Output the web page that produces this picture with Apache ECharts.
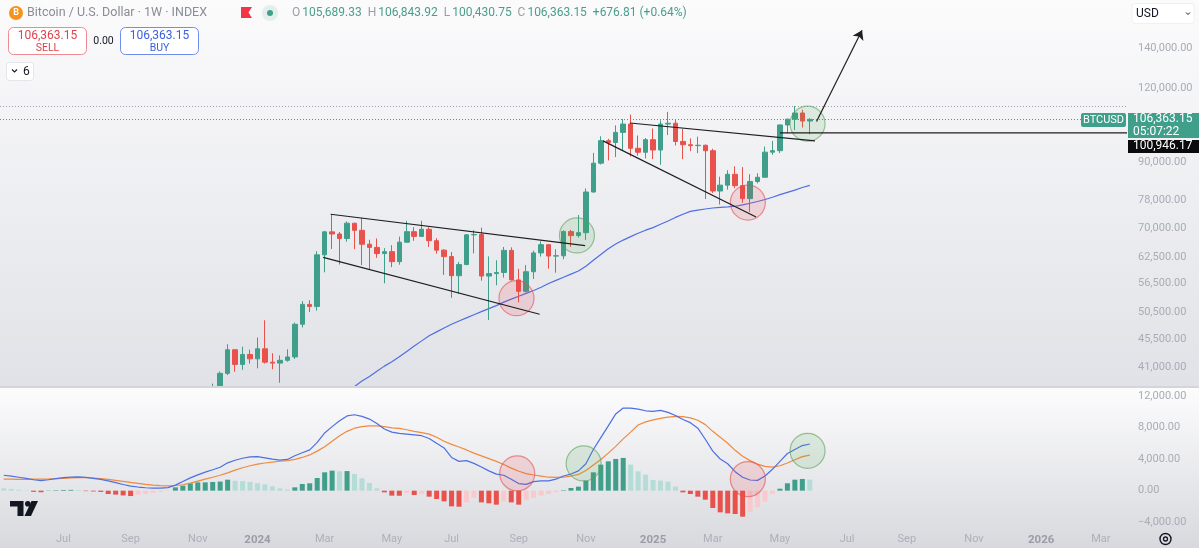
<!DOCTYPE html>
<html><head><meta charset="utf-8">
<script src="https://cdn.jsdelivr.net/npm/echarts/dist/echarts.min.js"></script>
<style>html,body{margin:0;padding:0;background:#fff;overflow:hidden}#c{width:1199px;height:548px}</style>
</head><body><div id="c"></div>
<script>
// ---------- DATA ----------
const firstWeek = [2023, 4, 8];          // Monday 2023-05-08 (UTC)
const weekCount = 151;                    // weekly slots shown on the time scale
const categories = [];
for (let i = 0; i < weekCount; i++) {
  categories.push(new Date(Date.UTC(firstWeek[0], firstWeek[1], firstWeek[2] + 7 * i)).toISOString().slice(0, 10));
}
const tickDates = ['2023-07-03','2023-09-04','2023-11-06','2024-01-01','2024-03-04','2024-05-06','2024-07-01','2024-09-02','2024-11-04','2025-01-06','2025-03-03','2025-05-05','2025-07-07','2025-09-01','2025-11-03','2026-01-05','2026-03-02'];
const tickTexts = ['Jul','Sep','Nov','2024','Mar','May','Jul','Sep','Nov','2025','Mar','May','Jul','Sep','Nov','2026','Mar'];
const priceTicks = [41000,45500,50500,56500,62500,70000,78000,90000,120000,140000];
const macdTicks = [-4000,0,4000,8000,12000];

const candleStart = '2023-11-20';
// [open, high, low, close]
const weeklyOHLC = [
 [37360,38420,35690,37450],[37450,40250,36860,39970],[39970,44730,39700,43780],[43780,43800,40210,41370],[41370,44300,40520,42990],[42990,43800,41500,42270],
 [42270,45900,40750,43940],[43940,49050,41500,41730],[41730,43200,40600,41580],[41580,42840,38550,42030],[42030,43850,41800,42580],
 [42580,48590,42260,48300],[48300,52820,47700,52140],[52140,52990,50620,51730],[51730,64000,50900,63110],
 [63110,69200,59000,68950],[68950,73780,64550,68390],[68390,68920,60800,67210],[67210,71770,66390,71290],
 [71290,71340,64500,69360],[69360,72800,60660,65740],[65740,66900,59600,64940],[64940,67230,62390,63420],
 [63420,64740,56550,63890],[63890,65500,60190,61480],[61480,67700,60750,66270],[66270,71950,66060,69000],
 [69000,70200,66600,67760],[67760,71980,67600,69650],[69650,70200,65080,66640],[66640,67300,63400,64260],
 [64260,64500,58400,62680],[62680,63800,53490,58240],[58240,61400,54300,60790],[60790,68360,60650,68160],
 [68160,69400,63460,68250],[68250,70080,57120,58160],[58160,62730,49100,58710],[58710,61800,56120,58960],
 [58960,65050,57800,64200],[64200,64960,57200,57300],[57300,59800,52550,54840],[54840,60650,54580,59130],
 [59130,64130,57500,63580],[63580,66500,62700,65630],[65630,65650,59830,62820],[62820,64480,58900,62870],
 [62870,69400,62040,69030],[69030,69500,65060,67970],[67970,73600,67450,68740],[68740,81500,66830,80400],
 [80400,93480,80220,89850],[89850,99650,89380,97990],[97990,98700,90800,97280],[97280,103950,92000,101170],
 [101170,106500,94160,104460],[104460,108350,92210,95160],[95160,99960,92500,93710],[93710,98980,91510,98360],
 [98360,102700,91300,94520],[94520,106000,89300,104470],[104470,109500,100120,104800],[104800,106400,96200,97690],
 [97690,102500,91230,96480],[96480,98830,94090,96130],[96130,99500,93390,96270],[96270,96500,78260,94270],
 [94270,95000,80100,80710],[80710,85300,76620,82560],[82560,87450,81150,86080],[86080,88770,81600,82390],
 [82390,88500,77150,78380],[78380,86100,74420,83730],[83730,86430,83110,85100],[85100,95760,85100,93750],
 [93750,97900,92800,94290],[94290,104300,93400,104100],[104100,106650,100800,106450],[106450,111980,102100,109010],
 [109010,110400,103100,105690],[105689.33,106843.92,100430.75,106363.15]
];
const lastPrice = 106363.15;
const highLine = 111980;
const rayLevel = 100946.17;

const maStart = '2024-03-25';
const ma50 = [37300,38000,38800,39500,40300,41100,41800,42600,43500,44400,45300,46200,46900,47600,48300,48900,49500,50100,50700,51300,51900,52600,53200,53800,54400,55000,55700,56500,57200,57900,58600,59300,60400,61800,63200,64600,65800,66800,67700,68600,69400,70100,71000,71900,72900,73800,74600,75000,75300,75600,75800,75900,76100,76500,77000,77500,78100,78800,79600,80300,81000,81800,82500];

const macdStart = '2023-05-08';
const macdLine = [1950,1830,1700,1550,1380,1280,1380,1520,1650,1720,
 1750,1680,1550,1420,1230,1010,780,580,460,370,
 320,320,390,700,1150,1620,2000,2350,2650,2960,
 3520,3850,4100,4280,4300,4150,3990,3850,3950,4420,
 4800,5150,6100,7300,8100,8850,9450,9600,9400,9050,
 8500,7800,7400,7240,7150,7050,6950,6600,6000,5400,
 4200,3700,3800,3450,3000,2500,2090,1950,1450,900,
 800,1150,1250,1240,1450,1850,2100,2500,3400,5200,
 6700,8200,9700,10440,10440,10300,10100,10030,10150,9900,
 9500,9000,8600,7900,6500,5000,4000,3400,2400,1700,
 1350,1300,1850,2700,3700,4700,5200,5700,5900];
const signalLine = [1460,1450,1440,1440,1450,1460,1480,1510,1560,1620,
 1660,1650,1600,1520,1420,1300,1170,1040,920,800,
 700,640,610,650,750,950,1200,1450,1700,1950,
 2250,2600,2900,3150,3350,3500,3620,3720,3800,3950,
 4200,4520,5000,5550,6250,6950,7500,7900,8100,8200,
 8200,8100,7950,7880,7700,7500,7330,7150,6750,6250,
 5850,5520,5150,4750,4400,4050,3700,3300,2850,2450,
 2150,1980,1850,1700,1670,1700,1850,2050,2550,3250,
 3950,4750,5600,6550,7400,8300,8700,8950,9150,9300,
 9390,9350,9200,8900,8350,7500,6750,6000,5100,4350,
 3800,3350,3080,2980,3150,3500,3900,4300,4500];
const histogram = [300,220,120,30,-150,-200,30,60,90,100,
 80,-60,-100,-160,-420,-500,-600,-680,-520,-400,
 -280,-150,-40,420,630,930,1050,1050,1100,1150,
 1390,1250,1200,1100,950,800,550,300,150,420,
 840,930,1600,2320,2530,2450,2480,2110,1560,970,
 300,-210,-630,-640,-300,-550,-400,-760,-1050,-1350,
 -1980,-2030,-1500,-900,-1480,-1600,-1770,-1350,-1480,-1770,
 -1200,-900,-620,-420,-200,60,340,510,1270,2320,
 3290,3710,4010,4140,3290,2450,2030,1350,1270,1140,
 510,-210,-420,-760,-1140,-2190,-2740,-2870,-2950,-3290,
 -2700,-2100,-1400,-400,250,930,1390,1480,1400];

// drawings, anchored in (week slot, value)
const trendLines = [
  [[43.8,73800],[77.9,65400]],
  [[42.8,62500],[71.8,50200]],
  [[83.9,104900],[108.7,97900]],
  [[80.3,97900],[100.8,73000]],
  [[104.0,rayLevel],[150.5,rayLevel]]
];
const arrowLine = [[108.9,105500],[115.0,149900]];
const priceCircles = [[68.7,53400,'r'],[76.8,68000,'g'],[99.7,77200,'r'],[107.7,104600,'g']];
const macdCircles = [[68.8,2180,'r'],[77.7,3440,'g'],[99.7,1460,'r'],[107.7,5040,'g']];

// ---------- BUILD ----------
const FONT = 'Roboto, "Noto Sans", "DejaVu Sans", sans-serif';
const UP = '#3f9f8b', DOWN = '#e9524c';
const LIGHT_UP = '#b4ddd8', LIGHT_DOWN = '#fbc8cc';
const fmt = v => v.toLocaleString('en-US', {minimumFractionDigits: 2, maximumFractionDigits: 2});
const c0 = categories.indexOf(candleStart);
const m0 = categories.indexOf(maStart);
const d0 = categories.indexOf(macdStart);
const candleData = categories.map((d, i) => { const r = weeklyOHLC[i - c0]; return r ? [r[0], r[3], r[2], r[1]] : '-'; });
const maData = categories.map((d, i) => { const v = ma50[i - m0]; return v === undefined ? '-' : v; });
const pad = (arr) => categories.map((d, i) => { const v = arr[i - d0]; return v === undefined ? '-' : v; });
const histData = categories.map((d, i) => {
  const v = histogram[i - d0];
  if (v === undefined) return '-';
  const p = histogram[i - d0 - 1];
  let col;
  if (v >= 0) col = (p !== undefined && v >= p) ? UP : LIGHT_UP;
  else col = (p !== undefined && v <= p) ? DOWN : LIGHT_DOWN;
  return {value: v, itemStyle: {color: col}};
});
const circleStyle = k => k === 'r'
  ? {color: 'rgba(242,54,69,0.18)', borderColor: 'rgba(226,76,76,0.75)', borderWidth: 1.2}
  : {color: 'rgba(76,175,80,0.18)', borderColor: 'rgba(90,160,90,0.75)', borderWidth: 1.2};

const series = [];
series.push({
  type: 'candlestick', xAxisIndex: 0, yAxisIndex: 0, data: candleData, barWidth: 5, clip: true, z: 3,
  itemStyle: {color: UP, color0: DOWN, borderColor: UP, borderColor0: DOWN, borderWidth: 1},
  markLine: {
    silent: true, symbol: 'none', label: {show: false}, z: 1,
    data: [
      {yAxis: highLine, lineStyle: {color: '#9ea1aa', type: [1, 2], width: 1}},
      {yAxis: lastPrice, lineStyle: {color: UP, type: [1, 2], width: 1}}
    ]
  }
});
series.push({type: 'line', xAxisIndex: 0, yAxisIndex: 0, data: maData, showSymbol: false, clip: true,
  lineStyle: {color: '#4e6fe3', width: 1.2}, z: 2});
trendLines.forEach(seg => series.push({
  type: 'line', xAxisIndex: 1, yAxisIndex: 0, data: seg, showSymbol: false, clip: true,
  lineStyle: {color: '#1f1f22', width: 1.2}, z: 5
}));
series.push({
  type: 'line', xAxisIndex: 1, yAxisIndex: 0, data: [], z: 5,
  markLine: {
    silent: true, label: {show: false}, symbol: ['none', 'arrow'], symbolSize: 9,
    lineStyle: {color: '#1f1f22', width: 1.2, type: 'solid'},
    data: [[{coord: arrowLine[0]}, {coord: arrowLine[1]}]]
  }
});
series.push({
  type: 'scatter', xAxisIndex: 1, yAxisIndex: 0, symbolSize: 35, z: 4, silent: true,
  data: priceCircles.map(c => ({value: [c[0], c[1]], itemStyle: circleStyle(c[2])}))
});
series.push({
  type: 'bar', xAxisIndex: 2, yAxisIndex: 1, data: histData, barWidth: 5, z: 6,
  markLine: {silent: true, symbol: 'none', label: {show: false},
    data: [{yAxis: 0}], lineStyle: {color: '#9ea1aa', type: [4, 4], width: 1}}
});
series.push({type: 'line', xAxisIndex: 2, yAxisIndex: 1, data: pad(signalLine), showSymbol: false,
  lineStyle: {color: '#f08a3e', width: 1.2}, z: 7});
series.push({type: 'line', xAxisIndex: 2, yAxisIndex: 1, data: pad(macdLine), showSymbol: false,
  lineStyle: {color: '#4e6fe3', width: 1.2}, z: 7});
series.push({
  type: 'scatter', xAxisIndex: 3, yAxisIndex: 1, symbolSize: 35, z: 8, silent: true,
  data: macdCircles.map(c => ({value: [c[0], c[1]], itemStyle: circleStyle(c[2])}))
});

// the indicator pane is painted over the price pane's overflow (clips candles below the price scale)
const bgGraphics = [
  {type: 'rect', id: 'bg1', silent: true, z: 0, shape: {x: 0, y: 0, width: 1199, height: 386},
    style: {fill: new echarts.graphic.LinearGradient(0, 0, 0, 1, [{offset: 0, color: '#fbfbfc'}, {offset: 1, color: '#e1e2e7'}])}},
  {type: 'rect', id: 'bg2', silent: true, z: 5.5, shape: {x: 0, y: 388, width: 1199, height: 160},
    style: {fill: new echarts.graphic.LinearGradient(0, 0, 0, 1, [{offset: 0, color: '#fcfcfd'}, {offset: 1, color: '#d8d9de'}])}},
  {type: 'rect', id: 'sep', silent: true, z: 5.5, shape: {x: 0, y: 386, width: 1199, height: 2}, style: {fill: '#d3d5da'}}
];
const headerGraphics = [
  {type: 'circle', z: 100, shape: {cx: 16, cy: 13, r: 7}, style: {fill: '#f7931a'}},
  {type: 'text', z: 101, x: 16, y: 13, style: {text: 'B', fill: '#fff', font: 'bold 9px ' + FONT, align: 'center', verticalAlign: 'middle'}},
  {type: 'text', z: 100, x: 27, y: 13, style: {text: 'Bitcoin / U.S. Dollar · 1W · INDEX', fill: '#8a8d96', font: '12.5px ' + FONT, verticalAlign: 'middle'}},
  {type: 'polygon', z: 100, shape: {points: [[241, 7], [252, 7], [248.5, 12.5], [252, 18], [241, 18]]}, style: {fill: '#f23645'}},
  {type: 'circle', z: 100, shape: {cx: 270, cy: 13, r: 8}, style: {fill: '#e2efec'}},
  {type: 'circle', z: 101, shape: {cx: 270, cy: 13, r: 3}, style: {fill: UP}},
  {type: 'text', z: 100, x: 292, y: 13, style: {
    text: '{l|O}{v|105,689.33}  {l|H}{v|106,843.92}  {l|L}{v|100,430.75}  {l|C}{v|106,363.15}  {v|+676.81 (+0.64%)}',
    verticalAlign: 'middle', font: '12px ' + FONT,
    rich: {l: {fill: '#9a9da6', font: '12px ' + FONT, padding: [0, 2, 0, 0]}, v: {fill: '#4a9e8c', font: '12px ' + FONT}}
  }},
  {type: 'rect', z: 100, shape: {x: 8.5, y: 27.5, width: 78, height: 27, r: 5}, style: {fill: '#fff', stroke: '#f08a92', lineWidth: 1}},
  {type: 'text', z: 101, x: 47.5, y: 35.5, style: {text: '106,363.15', fill: '#e0424c', font: '12px ' + FONT, align: 'center', verticalAlign: 'middle'}},
  {type: 'text', z: 101, x: 47.5, y: 48, style: {text: 'SELL', fill: '#e0424c', font: '10.5px ' + FONT, align: 'center', verticalAlign: 'middle'}},
  {type: 'text', z: 100, x: 103.5, y: 41, style: {text: '0.00', fill: '#131722', font: '10.5px ' + FONT, align: 'center', verticalAlign: 'middle'}},
  {type: 'rect', z: 100, shape: {x: 120.5, y: 27.5, width: 78, height: 27, r: 5}, style: {fill: '#fff', stroke: '#6f8cf0', lineWidth: 1}},
  {type: 'text', z: 101, x: 159.5, y: 35.5, style: {text: '106,363.15', fill: '#3b5fe0', font: '12px ' + FONT, align: 'center', verticalAlign: 'middle'}},
  {type: 'text', z: 101, x: 159.5, y: 48, style: {text: 'BUY', fill: '#3b5fe0', font: '10.5px ' + FONT, align: 'center', verticalAlign: 'middle'}},
  {type: 'rect', z: 100, shape: {x: 6.5, y: 62.5, width: 27, height: 18, r: 3}, style: {fill: '#fff', stroke: '#e3e5ea', lineWidth: 1}},
  {type: 'polyline', z: 101, shape: {points: [[12, 69.5], [14.5, 72], [17, 69.5]]}, style: {stroke: '#131722', lineWidth: 1.1, fill: null}},
  {type: 'text', z: 101, x: 23, y: 71.5, style: {text: '6', fill: '#131722', font: '12px ' + FONT, verticalAlign: 'middle'}},
  {type: 'rect', z: 100, shape: {x: 1132, y: 3.5, width: 62, height: 20, r: 3}, style: {fill: '#fff', stroke: '#eef0f4', lineWidth: 1}},
  {type: 'text', z: 101, x: 1136, y: 13.5, style: {text: 'USD', fill: '#131722', font: '12px ' + FONT, verticalAlign: 'middle'}},
  {type: 'polyline', z: 101, shape: {points: [[1186, 12.5], [1188, 14.5], [1190, 12.5]]}, style: {stroke: '#131722', lineWidth: 1, fill: null}},
  // TradingView logo
  {type: 'polygon', z: 100, shape: {points: [[10, 501], [23.5, 501], [23.5, 516], [17.5, 516], [17.5, 506.5], [10, 506.5]]}, style: {fill: '#131722'}},
  {type: 'circle', z: 100, shape: {cx: 27.8, cy: 503.8, r: 2.8}, style: {fill: '#131722'}},
  {type: 'polygon', z: 100, shape: {points: [[31.5, 501], [38, 501], [31, 516], [24.5, 516]]}, style: {fill: '#131722'}},
  // settings gear
  {type: 'circle', z: 100, shape: {cx: 1165.5, cy: 539, r: 5.5}, style: {fill: 'none', stroke: '#131722', lineWidth: 1.4}},
  {type: 'circle', z: 100, shape: {cx: 1165.5, cy: 539, r: 2}, style: {fill: 'none', stroke: '#131722', lineWidth: 1.3}}
];

const option = {
  animation: false,
  backgroundColor: '#ffffff',
  textStyle: {fontFamily: FONT},
  grid: [
    {left: 0, right: 72, top: 0, height: 386},
    {left: 0, right: 72, top: 388, height: 140}
  ],
  xAxis: [
    {type: 'category', gridIndex: 0, data: categories, boundaryGap: true, show: false},
    {type: 'value', gridIndex: 0, min: -0.5, max: weekCount - 0.5, show: false},
    {type: 'category', gridIndex: 1, data: categories, boundaryGap: true, z: 20,
      axisLine: {show: false}, axisTick: {show: false}, splitLine: {show: false},
      axisLabel: {
        margin: 6, color: '#adb0b9', fontSize: 11,
        interval: (idx, val) => tickDates.indexOf(val) >= 0,
        formatter: val => { const t = tickTexts[tickDates.indexOf(val)] || ''; return /^\d{4}$/.test(t) ? '{y|' + t + '}' : t; },
        rich: {y: {fontWeight: 'bold', color: '#9a9da6', fontSize: 11.5}}
      }},
    {type: 'value', gridIndex: 1, min: -0.5, max: weekCount - 0.5, show: false}
  ],
  yAxis: [
    {type: 'log', logBase: 10, gridIndex: 0, position: 'right', min: 38070, max: 168500, z: 20,
      axisLine: {show: false}, axisTick: {show: false, customValues: priceTicks}, splitLine: {show: false},
      axisLabel: {customValues: priceTicks, formatter: v => fmt(v), color: '#a9acb5', fontSize: 11, margin: 11, align: 'left'}},
    {type: 'value', gridIndex: 1, position: 'right', min: -4720, max: 12980, z: 20,
      axisLine: {show: false}, axisTick: {show: false, customValues: macdTicks}, splitLine: {show: false},
      axisLabel: {customValues: macdTicks, formatter: v => (v < 0 ? '\u2212' : '') + fmt(Math.abs(v)), color: '#a9acb5', fontSize: 11, margin: 11, align: 'left'}}
  ],
  graphic: bgGraphics.concat(headerGraphics),
  series: series
};

const chart = echarts.init(document.getElementById('c'));
chart.setOption(option);

// price tags tied to the price scale
const yP = chart.convertToPixel({yAxisIndex: 0}, lastPrice);
const tagGraphics = [
  {type: 'rect', z: 110, shape: {x: 1081, y: yP - 6.5, width: 45, height: 14, r: 2}, style: {fill: UP}},
  {type: 'text', z: 111, x: 1103.5, y: yP + 0.5, style: {text: 'BTCUSD', fill: '#fff', font: '11px ' + FONT, align: 'center', verticalAlign: 'middle'}},
  {type: 'rect', z: 110, shape: {x: 1128, y: yP - 6.5, width: 71, height: 25}, style: {fill: UP}},
  {type: 'text', z: 111, x: 1133, y: yP, style: {text: fmt(lastPrice), fill: '#fff', font: '12px ' + FONT, verticalAlign: 'middle'}},
  {type: 'text', z: 111, x: 1133, y: yP + 12.5, style: {text: '05:07:22', fill: '#fff', font: '12px ' + FONT, verticalAlign: 'middle'}},
  {type: 'rect', z: 110, shape: {x: 1128, y: yP + 20.5, width: 71, height: 13}, style: {fill: '#0b0b0e'}},
  {type: 'text', z: 111, x: 1133, y: yP + 27, style: {text: fmt(rayLevel), fill: '#fff', font: '12px ' + FONT, verticalAlign: 'middle'}}
];
chart.setOption({graphic: bgGraphics.concat(headerGraphics, tagGraphics)});
</script>
</body></html>
